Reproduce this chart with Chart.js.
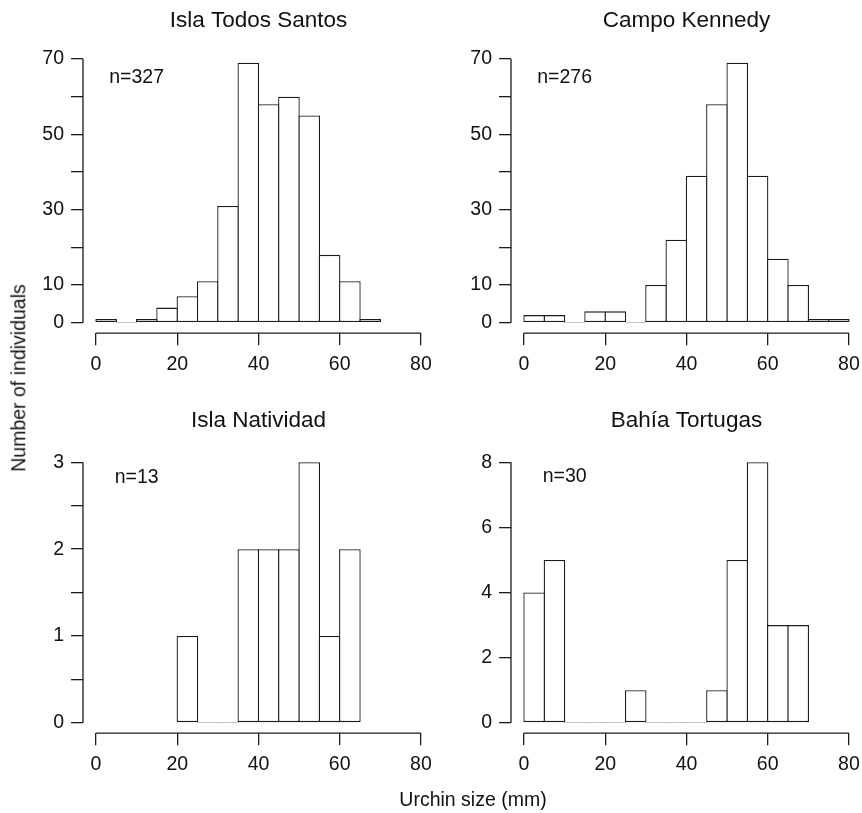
<!DOCTYPE html>
<html>
<head>
<meta charset="utf-8">
<script src="https://cdn.jsdelivr.net/npm/chart.js@4"></script>
<style>
  html, body { margin: 0; padding: 0; background: #fff; overflow: hidden; }
  body { width: 862px; height: 813px; position: relative; font-family: "Liberation Sans", Arial, sans-serif; color: #111; }
  canvas { position: absolute; }
  .lab { position: absolute; white-space: nowrap; font-size: 19.5px; line-height: 1; }
  #ylab { left: 18.5px; top: 377.5px; transform: translate(-50%, -50%) rotate(-90deg); }
  #xlab { left: 473px; top: 800px; transform: translate(-50%, -50%); }
</style>
</head>
<body>
<canvas id="santos" width="440" height="400" style="left:0px;top:0px"></canvas>
<canvas id="kennedy" width="440" height="400" style="left:428.3px;top:0px"></canvas>
<canvas id="natividad" width="440" height="400" style="left:0px;top:400px"></canvas>
<canvas id="tortugas" width="440" height="400" style="left:428.3px;top:400px"></canvas>
<div class="lab" id="ylab">Number of individuals</div>
<div class="lab" id="xlab">Urchin size (mm)</div>
<script>
// lower edge of each 5 mm size class
var bins = [0, 5, 10, 15, 20, 25, 30, 35, 40, 45, 50, 55, 60, 65, 70, 75];
var binWidth = 5;

// counts per size class (null = class outside the histogram)
var santosCounts    = [1, 0, 1, 4, 7, 11, 31, 69, 58, 60, 55, 18, 11, 1, null, null];
var kennedyCounts   = [2, 2, 0, 3, 3, 0, 10, 22, 39, 58, 69, 39, 17, 10, 1, 1];
var natividadCounts = [null, null, null, null, 1, 0, 0, 2, 2, 2, 3, 1, 2, null, null, null];
var tortugasCounts  = [4, 5, 0, 0, 0, 1, 0, 0, 0, 1, 5, 8, 3, 3, null, null];

var xTicks = [0, 20, 40, 60, 80];
var bigTicks = [0, 10, 20, 30, 40, 50, 60, 70];
var bigLabels = [0, 10, 30, 50, 70];
var natividadTicks = [0, 0.5, 1, 1.5, 2, 2.5, 3];
var natividadLabels = [0, 1, 2, 3];
var tortugasTicks = [0, 2, 4, 6, 8];
var tortugasLabels = [0, 2, 4, 6, 8];

Chart.defaults.font.family = '"Liberation Sans", Arial, sans-serif';
Chart.defaults.color = '#111';

var ink = '#1c1c1c';
var lineW = 1.3;

// R-style axis lines (only across the tick range), panel title and n label
var panelPlugin = {
  id: 'panel',
  afterDraw: function(chart, args, opts) {
    var ctx = chart.ctx, a = chart.chartArea;
    var xs = chart.scales.x, ys = chart.scales.y;
    ctx.save();
    ctx.strokeStyle = ink;
    ctx.lineWidth = lineW;
    ctx.beginPath();
    ctx.moveTo(xs.getPixelForValue(xTicks[0]), a.bottom);
    ctx.lineTo(xs.getPixelForValue(xTicks[xTicks.length - 1]), a.bottom);
    ctx.moveTo(a.left, ys.getPixelForValue(opts.yTicks[0]));
    ctx.lineTo(a.left, ys.getPixelForValue(opts.yTicks[opts.yTicks.length - 1]));
    ctx.stroke();

    ctx.fillStyle = '#111';
    ctx.textAlign = 'center';
    ctx.textBaseline = 'alphabetic';
    ctx.font = '22.5px "Liberation Sans", Arial, sans-serif';
    ctx.fillText(opts.title, (a.left + a.right) / 2, 26.7);

    ctx.textBaseline = 'middle';
    ctx.font = '19.5px "Liberation Sans", Arial, sans-serif';
    ctx.fillText(opts.n, xs.getPixelForValue(10), ys.getPixelForValue(opts.yMax * opts.nPos));
    ctx.restore();
  }
};

function histogram(id, title, counts, yMax, yTicks, yLabels, n, nPos, padTop) {
  var points = bins.map(function(b, i) { return { x: b + binWidth / 2, y: counts[i] }; });
  return new Chart(document.getElementById(id).getContext('2d'), {
    type: 'bar',
    data: {
      datasets: [{
        data: points,
        backgroundColor: '#fff',
        borderColor: function(c) { return c.raw && c.raw.y === 0 ? '#9a9a9a' : ink; },
        borderWidth: lineW,
        borderSkipped: false,
        minBarLength: 1,
        inflateAmount: 0,
        // bars overlap by one line width so neighbouring edges share one line, as in R
        barPercentage: 1.064,
        categoryPercentage: 1
      }]
    },
    options: {
      responsive: false,
      animation: false,
      events: [],
      layout: { padding: { top: padTop, right: 5.3, left: 0, bottom: 0 } },
      plugins: {
        legend: { display: false },
        tooltip: { enabled: false },
        panel: { title: title, n: n, nPos: nPos, yMax: yMax, yTicks: yTicks }
      },
      scales: {
        x: {
          type: 'linear',
          min: -0.04 * 80,
          max: 80 * 1.04,
          offset: false,
          afterBuildTicks: function(s) { s.ticks = xTicks.map(function(v) { return { value: v }; }); },
          afterFit: function(s) { s.height = 66.8; },
          grid: { offset: false, drawOnChartArea: false, drawTicks: true, tickLength: 12, color: ink, lineWidth: lineW },
          border: { display: false },
          ticks: { font: { size: 19.5 }, padding: 8, autoSkip: false, maxRotation: 0 }
        },
        y: {
          min: -0.04 * yMax,
          max: yMax * 1.04,
          afterBuildTicks: function(s) { s.ticks = yTicks.map(function(v) { return { value: v }; }); },
          afterFit: function(s) { s.width = 83; },
          grid: { drawOnChartArea: false, drawTicks: true, tickLength: 12, color: ink, lineWidth: lineW },
          border: { display: false },
          ticks: {
            font: { size: 19.5 },
            padding: 7,
            autoSkip: false,
            callback: function(v) { return yLabels.indexOf(v) >= 0 ? String(v) : ''; }
          }
        }
      }
    },
    plugins: [panelPlugin]
  });
}

histogram('santos', 'Isla Todos Santos', santosCounts, 70, bigTicks, bigLabels, 'n=327', 0.93, 48.5);
histogram('kennedy', 'Campo Kennedy', kennedyCounts, 70, bigTicks, bigLabels, 'n=276', 0.93, 48.5);
histogram('natividad', 'Isla Natividad', natividadCounts, 3, natividadTicks, natividadLabels, 'n=13', 0.94, 51.9);
histogram('tortugas', 'Bahía Tortugas', tortugasCounts, 8, tortugasTicks, tortugasLabels, 'n=30', 0.945, 51.9);
</script>
</body>
</html>
